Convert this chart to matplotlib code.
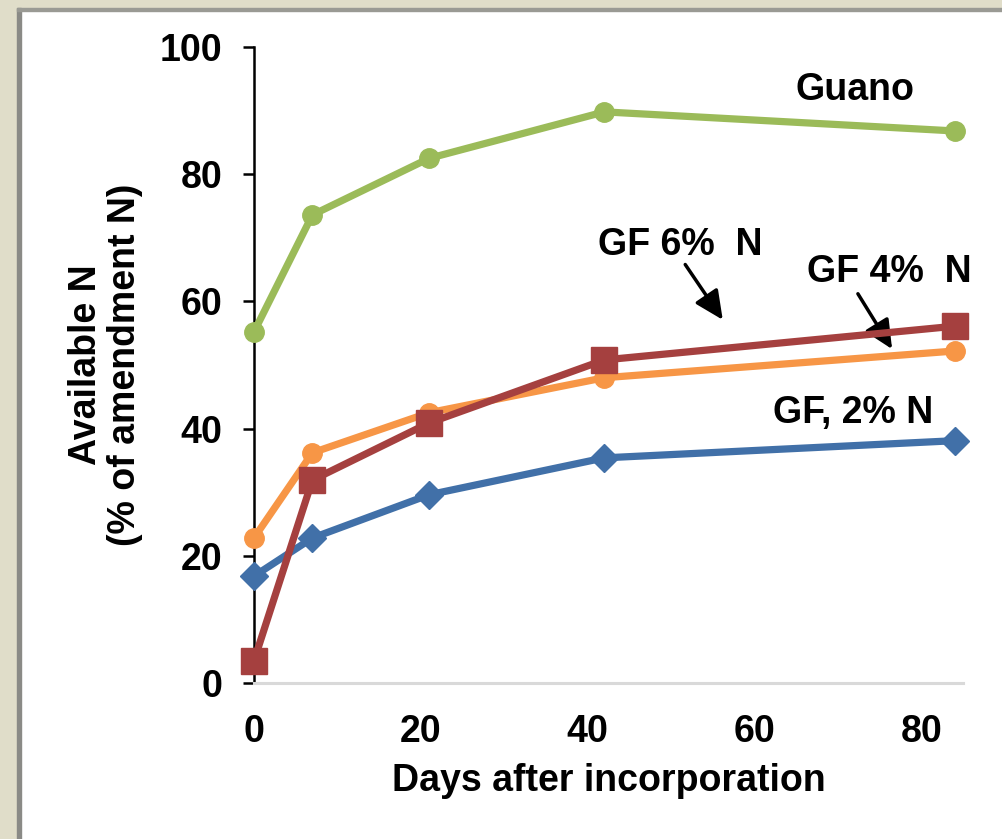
import matplotlib
matplotlib.use("Agg")
import matplotlib.pyplot as plt
from matplotlib.patches import Rectangle

days = [0, 7, 21, 42, 84]
guano = [55.2, 73.6, 82.5, 89.8, 86.8]
gf4 = [22.8, 36.2, 42.5, 48.0, 52.2]
gf6 = [3.5, 31.9, 40.9, 50.8, 56.1]
gf2 = [16.8, 22.8, 29.6, 35.4, 38.1]
yticks = [0, 20, 40, 60, 80, 100]
xticks = [0, 20, 40, 60, 80]

plt.rcParams['font.family'] = ['Liberation Sans', 'DejaVu Sans']
plt.rcParams['font.weight'] = 'bold'

FS = 27

fig = plt.figure(figsize=(10.03, 8.39), dpi=100)
fig.patch.set_facecolor('white')
# frame: beige border with shadow
fig.patches.append(Rectangle((0, 0), 17/1003, 1, transform=fig.transFigure, color='#E0DDC9', zorder=0))
fig.patches.append(Rectangle((0, 1 - 8/839), 1, 8/839, transform=fig.transFigure, color='#E0DDC9', zorder=0))
fig.patches.append(Rectangle((17/1003, 0), 4/1003, 1 - 8/839, transform=fig.transFigure, color='#8A8A86', zorder=0))
fig.patches.append(Rectangle((17/1003, 1 - 11/839), 1, 3/839, transform=fig.transFigure, color='#9A9A94', zorder=0))

ax = fig.add_axes([254/1003, 156/839, (963-254)/1003, (792-156)/839])
ax.set_xlim(0, 85)
ax.set_ylim(0, 100)

lw = 5.2
ax.plot(days, gf2, color='#4170A8', lw=lw, marker='D', ms=14, zorder=3, clip_on=False)
ax.plot(days, gf4, color='#F79646', lw=lw, marker='o', ms=14, zorder=4, clip_on=False)
ax.plot(days, gf6, color='#A5403F', lw=lw, marker='s', ms=19, zorder=5, clip_on=False)
ax.plot(days, guano, color='#9BBB59', lw=lw, marker='o', ms=14, zorder=6, clip_on=False)

for s in ['top', 'right']:
    ax.spines[s].set_visible(False)
ax.spines['left'].set_linewidth(1.8)
ax.spines['left'].set_color('black')
ax.spines['bottom'].set_linewidth(2.2)
ax.spines['bottom'].set_color('#D9D9D9')

ax.set_yticks(yticks)
ax.set_xticks(xticks)
ax.tick_params(axis='y', direction='out', length=8, width=1.8, pad=15, labelsize=FS)
ax.tick_params(axis='x', length=0, pad=22, labelsize=FS)
for lab in ax.get_xticklabels() + ax.get_yticklabels():
    lab.set_fontweight('bold')

ax.set_xlabel('Days after incorporation', fontsize=FS, fontweight='bold', labelpad=10)
ax.set_ylabel('Available N\n(% of amendment N)', fontsize=FS, fontweight='bold', labelpad=12, linespacing=1.1)

ax.text(72.1, 93.2, 'Guano', ha='center', va='center', fontsize=FS, fontweight='bold')
ax.text(51.1, 68.9, 'GF 6%  N', ha='center', va='center', fontsize=FS, fontweight='bold')
ax.text(76.2, 64.6, 'GF 4%  N', ha='center', va='center', fontsize=FS, fontweight='bold')
ax.text(71.8, 42.5, 'GF, 2% N', ha='center', va='center', fontsize=FS, fontweight='bold')

arrowprops = dict(arrowstyle='-|>,head_length=0.7,head_width=0.33', color='black', lw=2.5,
                  mutation_scale=25, shrinkA=0, shrinkB=0)
ax.annotate('', xy=(56.2, 57.1), xytext=(51.7, 65.8), arrowprops=arrowprops)
ax.annotate('', xy=(76.5, 52.5), xytext=(72.4, 61.2), arrowprops=arrowprops)

fig.savefig('out.png', dpi=100)
